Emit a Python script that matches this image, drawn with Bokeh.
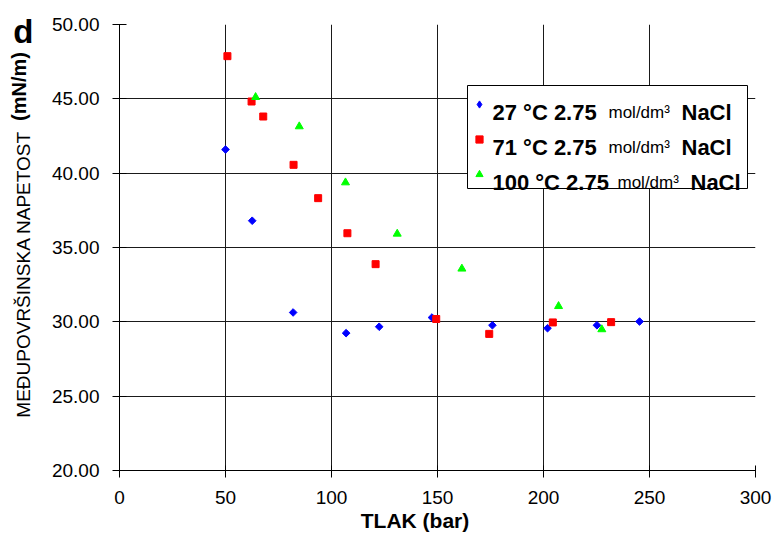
import math
from bokeh.plotting import figure
from bokeh.models import (Range1d, FixedTicker, PrintfTickFormatter, Label,
                          Legend, LegendItem, BoxAnnotation, LinearAxis)
from bokeh.core.properties import value
from bokeh.embed import file_html
from bokeh.resources import INLINE

# ---- data ----
t27_pressure = [50.0, 62.6, 81.9, 106.9, 122.5, 147.4, 175.9, 201.9, 225.2, 245.3]
t27_tension = [41.59, 36.80, 30.63, 29.24, 29.67, 30.29, 29.77, 29.57, 29.77, 30.02]

t71_pressure = [50.9, 62.3, 67.8, 82.1, 93.7, 107.5, 120.8, 149.4, 174.4, 204.4, 231.9]
t71_tension = [47.87, 44.82, 43.81, 40.56, 38.32, 35.96, 33.88, 30.19, 29.19, 29.96, 29.98]

t100_pressure = [64.2, 84.8, 106.6, 131.0, 161.5, 207.1, 227.5]
t100_tension = [45.11, 43.14, 39.37, 35.92, 33.57, 31.05, 29.49]

x_ticks = [0, 50, 100, 150, 200, 250, 300]
y_ticks = [20, 25, 30, 35, 40, 45, 50]

legend_temps = ["27 \u00b0C 2.75", "71 \u00b0C 2.75", "100 \u00b0C 2.75"]
legend_unit = "mol/dm\u00b3"
legend_salt = "NaCl"

x_title = "TLAK (bar)"
y_title_main = "ME\u0110UPOVR\u0160INSKA NAPETOST"
y_title_unit = "(mN/m)"
panel_letter = "d"

FONT = "Liberation Sans"

p = figure(width=776, height=537, output_backend="svg", toolbar_location=None,
           x_range=Range1d(0, 300), y_range=Range1d(20, 50),
           min_border_left=119, min_border_right=21, min_border_top=24,
           min_border_bottom=67)

p.outline_line_color = None
p.background_fill_color = "white"
p.border_fill_color = "white"

xa = p.xaxis[0]
ya = p.yaxis[0]

# grid
p.xgrid.ticker = FixedTicker(ticks=[t for t in x_ticks if 0 < t < 300])
p.ygrid.ticker = FixedTicker(ticks=[t for t in y_ticks if t > 20])
for g in (p.xgrid, p.ygrid):
    g.grid_line_color = "#1a1a1a"
    g.grid_line_width = 1

# main axes
xa.ticker = FixedTicker(ticks=x_ticks)
ya.ticker = FixedTicker(ticks=y_ticks)
ya.formatter = PrintfTickFormatter(format="%.2f")
for ax in (xa, ya):
    ax.axis_line_color = "black"
    ax.axis_line_width = 1
    ax.major_tick_line_color = "black"
    ax.major_tick_out = 7
    ax.minor_tick_line_color = None
    ax.minor_tick_in = 0
    ax.minor_tick_out = 0
    ax.major_label_text_font = FONT
    ax.major_label_text_font_size = "19px"
    ax.major_label_text_color = "black"
xa.major_tick_in = 5
ya.major_tick_in = 7
xa.major_label_standoff = 13
ya.major_label_standoff = 13


def text_axis(tick, text, size, style, orientation, standoff):
    return LinearAxis(ticker=FixedTicker(ticks=[tick]),
                      major_label_overrides={tick: text},
                      major_label_text_font=FONT, major_label_text_font_size=size,
                      major_label_text_font_style=style, major_label_text_color="black",
                      major_label_orientation=orientation, major_label_standoff=standoff,
                      axis_line_color=None, major_tick_line_color=None,
                      minor_tick_line_color=None, major_tick_in=0, major_tick_out=0,
                      minor_tick_in=0, minor_tick_out=0)


# axis titles (tick labels of text-only axes, so that they can sit off-centre)
p.add_layout(text_axis(33.2, y_title_main, "19px", "normal", "vertical", 14), "left")
p.add_layout(text_axis(45.83, y_title_unit, "20px", "bold", "vertical", -20), "left")
p.add_layout(text_axis(49.55, panel_letter, "33px", "bold", "horizontal", -28), "left")
p.add_layout(text_axis(139.4, x_title, "21px", "bold", "horizontal", 2), "below")

# data
r27 = p.scatter(t27_pressure, t27_tension, marker="square", angle=math.pi / 4, size=5.4,
                fill_color="#0000ff", line_color="#0000ff")
r71 = p.scatter(t71_pressure, t71_tension, marker="square", size=7,
                fill_color="#ff0000", line_color="#ff0000")
r100 = p.scatter(t100_pressure, t100_tension, marker="triangle", size=8,
                 fill_color="#00ff00", line_color="#00ff00")
# legend-only symbol for the blue series (hidden copy of the same data)
r27_key = p.scatter(t27_pressure, t27_tension, marker="diamond", size=8,
                    fill_color="#0000ff", line_color="#0000ff", visible=False)

# legend frame (white box with black border)
box = BoxAnnotation(left=348, right=628, bottom=282, top=385,
                    left_units="screen", right_units="screen",
                    bottom_units="screen", top_units="screen",
                    fill_color="white", fill_alpha=1.0,
                    line_color="black", line_width=1, line_alpha=1.0)
p.add_layout(box)

legend = Legend(items=[LegendItem(label=value(" "), renderers=[r]) for r in (r27_key, r71, r100)],
                location=(351, 286), orientation="vertical",
                glyph_width=18, glyph_height=20, label_height=20, label_width=1,
                label_standoff=0, spacing=15, padding=0, margin=0,
                border_line_alpha=0, background_fill_alpha=0,
                inactive_fill_alpha=0, label_text_font_size="1px")
p.add_layout(legend)

row_baselines = [358, 323, 288]
unit_x = [489, 489, 498]
salt_x = [562, 562, 571]
for i, txt in enumerate(legend_temps):
    p.add_layout(Label(x=373, y=row_baselines[i], x_units="screen", y_units="screen",
                       text=txt, text_font=FONT, text_font_size="22px",
                       text_font_style="bold", text_color="black",
                       text_align="left", text_baseline="alphabetic"))
    p.add_layout(Label(x=unit_x[i], y=row_baselines[i], x_units="screen", y_units="screen",
                       text=legend_unit, text_font=FONT, text_font_size="17px",
                       text_color="black", text_align="left", text_baseline="alphabetic"))
    p.add_layout(Label(x=salt_x[i], y=row_baselines[i], x_units="screen", y_units="screen",
                       text=legend_salt, text_font=FONT, text_font_size="22px",
                       text_font_style="bold", text_color="black",
                       text_align="left", text_baseline="alphabetic"))

open("out.html", "w").write(file_html(p, INLINE))
